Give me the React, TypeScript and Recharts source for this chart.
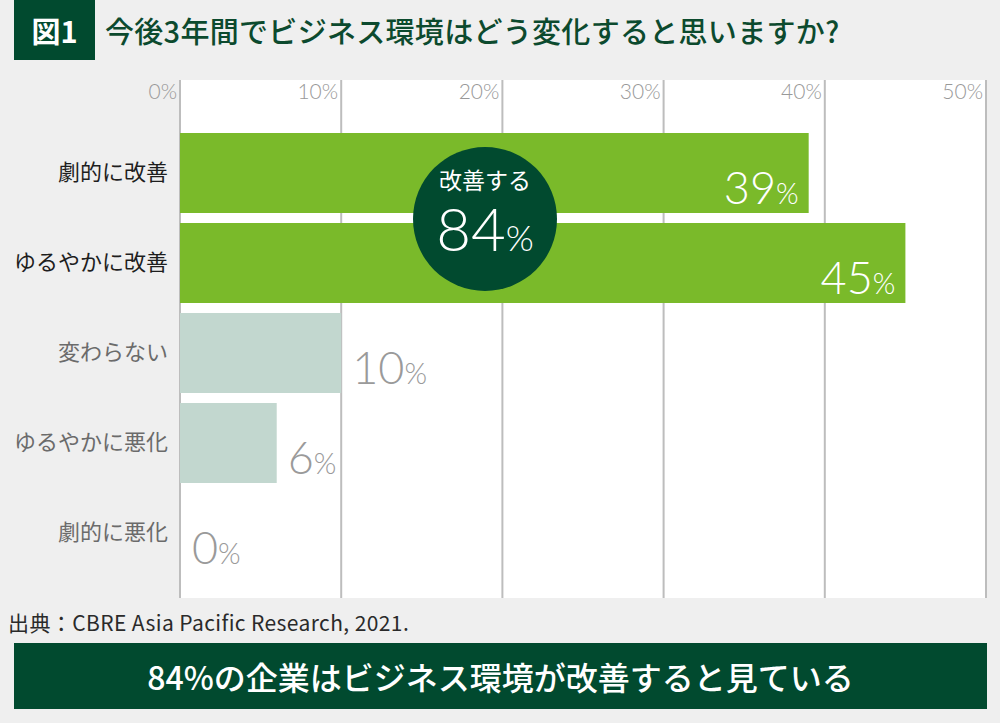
import { BarChart, Bar, XAxis, YAxis, CartesianGrid, Cell, LabelList } from 'recharts';

const categories = ['劇的に改善', 'ゆるやかに改善', '変わらない', 'ゆるやかに悪化', '劇的に悪化'];
const shares = [39, 45, 10, 6, 0];
const improving = [true, true, false, false, false];
const xTicks = [0, 10, 20, 30, 40, 50];

const data = categories.map((name, i) => ({ name, value: shares[i] }));

const JP = '"Noto Sans CJK JP", "Noto Sans", sans-serif';
const NUM = 'Lato, "Noto Sans", sans-serif';
const DARK_GREEN = '#014a2f';

const PercentTick = (props: any) => {
  const { x, y, payload } = props;
  return (
    <text x={x - 3} y={y + 27} textAnchor="end" fill="#999999" fontSize={21} fontFamily={NUM} fontWeight={300}>
      {payload.value}%
    </text>
  );
};

const CategoryTick = (props: any) => {
  const { x, y, payload } = props;
  const i = categories.indexOf(payload.value);
  return (
    <text x={x - 4} y={y} dy={7} textAnchor="end" fill={improving[i] ? '#1e1e1e' : '#6b6b6b'} fontSize={22} fontFamily={JP}>
      {payload.value}
    </text>
  );
};

const ValueLabel = (props: any) => {
  const vb = props.viewBox ?? props;
  const { x, y, width, height } = vb;
  const i = props.index;
  const inside = improving[i];
  const tx = inside ? x + width - 10 : x + width + 11;
  return (
    <text
      x={tx}
      y={y + height - 9}
      textAnchor={inside ? 'end' : 'start'}
      fill={inside ? '#ffffff' : '#9a9a9a'}
      fontFamily={NUM}
      fontSize={45}
      fontWeight={300}
    >
      {props.value}
      <tspan fontSize={29}>%</tspan>
    </text>
  );
};

export default function App() {
  return (
    <div style={{ position: 'absolute', left: 0, top: 0, width: 1000, height: 723, background: '#efefef', overflow: 'hidden' }}>
      {/* title */}
      <div style={{ position: 'absolute', left: 14, top: 0, width: 81, height: 60, background: DARK_GREEN, color: '#fff', fontFamily: JP, fontWeight: 700, fontSize: 29, lineHeight: '60px', textAlign: 'center' }}>
        図1
      </div>
      <div style={{ position: 'absolute', left: 105, top: 0, height: 60, lineHeight: '60px', color: '#0c4a2e', fontFamily: JP, fontWeight: 500, fontSize: 29, letterSpacing: 0.3, whiteSpace: 'nowrap' }}>
        今後3年間でビジネス環境はどう変化すると思いますか?
      </div>

      <div style={{ position: 'absolute', left: 0, top: 0 }}>
        <BarChart width={1000} height={723} data={data} layout="vertical" margin={{ top: 50, right: 14, bottom: 125, left: 0 }}>
          <CartesianGrid horizontal={false} stroke="#bdbdbd" strokeWidth={2} fill="#ffffff" fillOpacity={1} />
          <XAxis
            type="number"
            orientation="top"
            domain={[0, 50]}
            ticks={xTicks}
            height={30}
            axisLine={false}
            tickLine={false}
            tick={<PercentTick />}
          />
          <YAxis
            type="category"
            dataKey="name"
            width={180}
            padding={{ top: 48, bottom: 20 }}
            axisLine={false}
            tickLine={false}
            tick={<CategoryTick />}
          />
          <Bar dataKey="value" barSize={80} minPointSize={1} isAnimationActive={false}>
            {data.map((d, i) => (
              <Cell key={d.name} fill={d.value === 0 ? 'none' : improving[i] ? '#7aba2a' : '#c2d7cf'} />
            ))}
            <LabelList dataKey="value" content={<ValueLabel />} />
          </Bar>
        </BarChart>
      </div>

      {/* callout */}
      <div style={{ position: 'absolute', left: 413, top: 147, width: 144, height: 144, borderRadius: '50%', background: DARK_GREEN, color: '#fff', textAlign: 'center' }}>
        <div style={{ fontFamily: JP, fontSize: 23, marginTop: 20, lineHeight: '24px' }}>改善する</div>
        <div style={{ fontFamily: NUM, fontWeight: 300, fontSize: 60, lineHeight: '56px', marginTop: 9 }}>
          84<span style={{ fontSize: 36 }}>%</span>
        </div>
      </div>

      <div style={{ position: 'absolute', left: 8, top: 607, fontFamily: JP, fontSize: 21, letterSpacing: 0.4, color: '#2a2a2a', whiteSpace: 'nowrap' }}>
        出典：CBRE Asia Pacific Research, 2021.
      </div>

      <div style={{ position: 'absolute', left: 14, top: 643, width: 973, height: 66, background: DARK_GREEN, color: '#fff', fontFamily: JP, fontWeight: 500, fontSize: 32, lineHeight: '66px', textAlign: 'center', whiteSpace: 'nowrap' }}>
        84%の企業はビジネス環境が改善すると見ている
      </div>
    </div>
  );
}
